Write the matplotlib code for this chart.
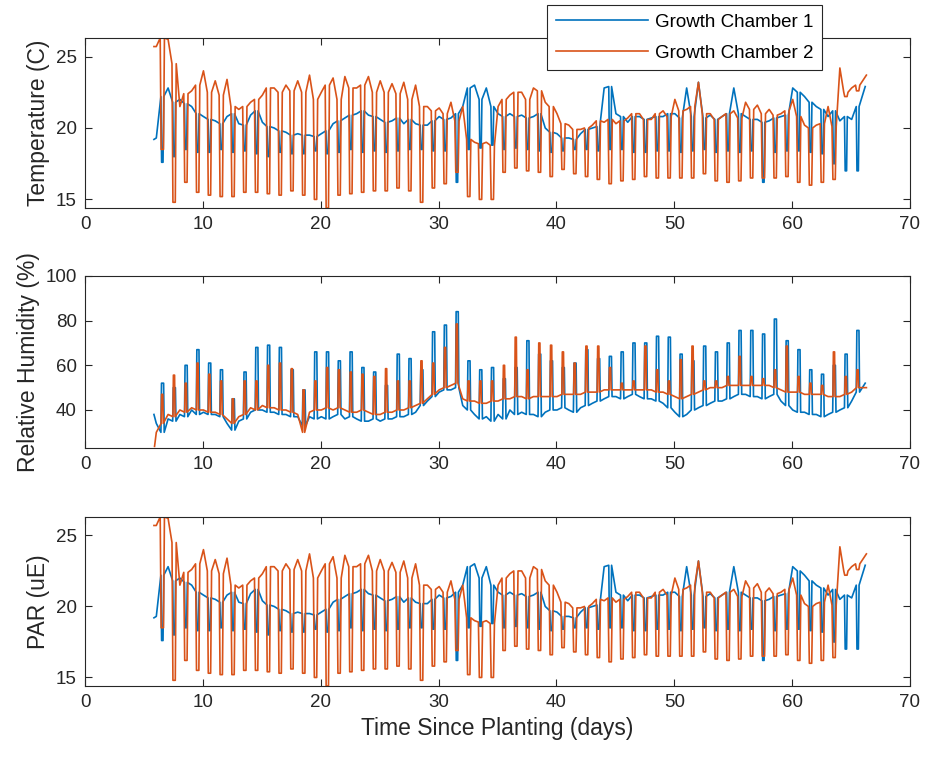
import numpy as np
import matplotlib.pyplot as plt

plt.rcParams['font.family'] = ['Liberation Sans', 'DejaVu Sans']

# one entry per day since planting (day 6 .. day 65)
days = list(range(6, 66))

# temperature (C): morning level, afternoon level, night dip
temp_c1_am = [19.3, 22.8, 22.0, 21.5, 20.8, 20.5, 20.8, 20.3, 20.9, 20.4,
              20.0, 19.7, 19.6, 19.5, 19.6, 20.3, 20.7, 21.0, 20.9, 20.6,
              20.5, 20.3, 20.3, 20.2, 20.8, 20.7, 21.5, 23.0, 22.8, 21.0,
              21.0, 20.9, 20.8, 20.0, 19.6, 19.3, 19.6, 20.0, 22.8, 21.0,
              20.4, 20.8, 20.7, 20.8, 21.0, 22.8, 23.2, 20.9, 20.8, 22.8,
              20.8, 20.6, 20.5, 20.8, 22.8, 22.2, 21.5, 20.8, 20.5, 20.6]
temp_c1_pm = [22.2, 21.8, 21.7, 21.0, 20.6, 20.3, 21.0, 20.2, 21.2, 20.1,
              19.8, 19.5, 19.5, 19.4, 19.8, 20.5, 20.9, 21.2, 20.8, 20.4,
              20.7, 20.6, 20.2, 20.5, 20.6, 21.0, 22.8, 22.0, 21.5, 20.8,
              20.8, 20.7, 21.0, 19.7, 19.3, 19.2, 19.9, 20.1, 22.9, 20.8,
              20.8, 20.6, 20.8, 21.0, 20.7, 20.8, 20.7, 20.6, 21.0, 21.0,
              20.6, 20.4, 20.7, 20.9, 22.5, 21.8, 21.3, 21.2, 20.8, 21.5]
temp_c1_night = [17.6, 18.0, 18.5, 18.3, 18.3, 18.5, 18.3, 18.4, 18.2, 18.0,
                 18.3, 18.2, 18.2, 18.4, 18.2, 18.3, 18.5, 18.3, 18.4, 18.3,
                 18.4, 18.5, 18.5, 18.4, 18.4, 16.2, 18.5, 18.6, 18.8, 18.5,
                 18.6, 18.5, 18.4, 18.3, 18.4, 18.5, 18.5, 18.4, 18.5, 18.5,
                 18.3, 18.3, 18.4, 18.4, 18.3, 18.4, 18.5, 18.3, 18.4, 18.3,
                 18.4, 16.2, 18.3, 18.4, 18.4, 18.3, 18.2, 17.5, 17.0, 17.0]

temp_c2_am = [25.7, 26.2, 21.5, 22.6, 24.0, 23.3, 23.4, 21.3, 21.8, 22.3,
              22.8, 23.0, 23.3, 23.7, 22.5, 23.5, 23.6, 22.8, 23.6, 23.3,
              23.1, 23.2, 23.0, 21.5, 21.4, 21.8, 21.5, 19.0, 19.0, 21.5,
              22.3, 22.5, 22.8, 21.8, 21.0, 20.2, 19.9, 20.2, 20.4, 20.3,
              20.7, 21.0, 20.6, 21.2, 22.0, 21.3, 23.2, 21.0, 20.8, 21.2,
              21.8, 21.6, 21.3, 21.0, 22.0, 20.2, 20.2, 21.5, 24.2, 22.8]
temp_c2_pm = [26.3, 24.5, 22.4, 23.0, 22.5, 22.3, 21.5, 21.5, 22.0, 22.8,
              22.5, 22.6, 22.5, 22.0, 23.0, 22.0, 22.8, 23.0, 22.5, 22.5,
              22.4, 22.0, 21.5, 21.2, 21.0, 20.5, 19.2, 18.9, 18.8, 22.0,
              22.5, 22.0, 22.6, 21.5, 20.3, 19.9, 20.0, 20.5, 20.6, 20.5,
              21.0, 20.6, 21.0, 20.8, 21.2, 21.5, 21.0, 20.6, 21.0, 20.7,
              21.3, 21.0, 20.9, 21.2, 20.8, 20.0, 20.3, 20.1, 22.5, 23.0]
temp_c2_night = [18.5, 14.8, 16.2, 15.5, 15.3, 15.2, 15.2, 15.5, 15.5, 15.4,
                 15.3, 15.6, 15.3, 15.0, 14.4, 15.3, 15.4, 15.5, 15.6, 15.6,
                 15.8, 15.6, 14.8, 15.8, 16.1, 16.9, 15.2, 15.0, 15.0, 16.9,
                 17.2, 17.0, 16.9, 16.6, 17.1, 16.8, 16.6, 16.4, 16.1, 16.3,
                 16.4, 16.6, 16.5, 16.5, 16.5, 16.5, 16.8, 16.3, 16.2, 16.3,
                 16.5, 16.5, 16.5, 16.6, 16.2, 16.0, 16.2, 16.4, 22.2, 22.6]

# relative humidity (%): morning base, afternoon base, daily peak
rh_c1_am = [34, 36, 38, 40, 39, 38, 34, 35, 39, 40,
            39, 38, 37, 37, 37, 37, 36, 36, 35, 35,
            36, 37, 39, 44, 48, 49, 42, 38, 37, 38,
            40, 39, 38, 39, 40, 40, 41, 43, 45, 46,
            46, 46, 45, 43, 39, 38, 41, 43, 44, 46,
            47, 46, 46, 44, 40, 39, 38, 38, 40, 44]
rh_c1_pm = [30, 35, 37, 38, 38, 37, 31, 36, 40, 39,
            38, 37, 33, 36, 36, 38, 37, 35, 36, 36,
            37, 38, 42, 46, 49, 50, 40, 36, 35, 36,
            38, 38, 37, 40, 41, 39, 42, 44, 46, 45,
            47, 45, 44, 41, 37, 40, 42, 44, 45, 47,
            46, 45, 47, 42, 39, 38, 37, 39, 41, 48]
rh_c1_peak = [52, 50, 60, 67, 61, 58, 45, 57, 68, 69,
              68, 58, 49, 66, 66, 62, 66, 59, 57, 51,
              65, 63, 58, 75, 78, 84, 62, 58, 59, 54,
              59, 71, 65, 62, 59, 61, 67, 63, 64, 66,
              70, 70, 73, 72.6, 65, 62, 68.6, 66, 70, 75.6,
              75.6, 74, 80.7, 71, 67, 58, 56, 60, 65, 75.6]

rh_c2_am = [30, 38, 40, 41, 40, 39, 36, 37, 41, 42,
            41, 40, 38, 39, 40, 40, 40, 39, 39, 38,
            39, 40, 42, 45, 49, 51, 45, 44, 43, 44,
            45, 46, 46, 46, 46, 47, 47, 48, 49, 49,
            49, 49, 49, 48, 46, 46, 48, 50, 50, 51,
            51, 51, 51, 49, 48, 47, 47, 46, 46, 48]
rh_c2_pm = [34, 37, 39, 40, 39, 38, 34, 38, 40, 41,
            40, 39, 30, 40, 41, 41, 39, 40, 38, 39,
            40, 41, 43, 47, 50, 52, 44, 43, 44, 45,
            46, 45, 46, 46, 47, 47, 48, 48, 49, 49,
            49, 49, 48, 47, 45, 47, 49, 50, 51, 51,
            51, 51, 50, 48, 48, 47, 47, 46, 47, 50]
rh_c2_peak = [47, 55.6, 52, 61, 56, 53, 45, 53, 53, 60,
              61, 58.5, 49, 53, 59, 58, 57, 56, 55, 58.5,
              53, 53, 62, 61, 68, 78.5, 53, 53, 53, 60,
              72.6, 58, 70, 69, 66, 61, 68.6, 68.6, 59, 52,
              53, 68.6, 58, 53, 62.5, 68.6, 53, 53, 55, 64,
              55, 54, 58, 68.6, 55, 52, 51, 66, 55, 58]

# first and last logged readings (day, value)
temp_c1_ends = [(5.85, 19.2), (66.2, 22.9)]
temp_c2_ends = [(5.85, 25.7), (66.3, 23.7)]
rh_c1_ends = [(5.85, 38), (66.2, 52)]
rh_c2_ends = [(5.9, 23.7), (66.3, 50)]


def daily_trace(am, pm, event, ends, phase):
    # phase: fraction of the day for (pre, event start, event end, post)
    t, v = [ends[0][0]], [ends[0][1]]
    for d, a, p, e in zip(days, am, pm, event):
        t += [d + 0.05] + [d + f for f in phase]
        v += [a, p, e, e, p]
    t.append(ends[1][0])
    v.append(ends[1][1])
    return np.array(t), np.array(v)


c1 = '#0072BD'
c2 = '#D95319'
ink = '#262626'

t1, temp1 = daily_trace(temp_c1_am, temp_c1_pm, temp_c1_night, temp_c1_ends,
                        (0.44, 0.50, 0.62, 0.68))
t2, temp2 = daily_trace(temp_c2_am, temp_c2_pm, temp_c2_night, temp_c2_ends,
                        (0.38, 0.46, 0.66, 0.74))
r1t, rh1 = daily_trace(rh_c1_am, rh_c1_pm, rh_c1_peak, rh_c1_ends,
                       (0.44, 0.49, 0.67, 0.72))
r2t, rh2 = daily_trace(rh_c2_am, rh_c2_pm, rh_c2_peak, rh_c2_ends,
                       (0.46, 0.50, 0.60, 0.64))

fig = plt.figure(figsize=(9.28, 7.58), dpi=100)
ax1 = fig.add_axes([0.0916, 0.7256, 0.889, 0.2243])
ax2 = fig.add_axes([0.0916, 0.409, 0.889, 0.227])
ax3 = fig.add_axes([0.0916, 0.095, 0.889, 0.223])

# PAR panel shows the same logged series as the temperature panel
panels = [
    (ax1, t1, temp1, t2, temp2, 'Temperature (C)', (14.4, 26.3), [15, 20, 25]),
    (ax2, r1t, rh1, r2t, rh2, 'Relative Humidity (%)', (23, 100), [40, 60, 80, 100]),
    (ax3, t1, temp1, t2, temp2, 'PAR (uE)', (14.4, 26.3), [15, 20, 25]),
]

for ax, xa, ya, xb, yb, label, ylim, yticks in panels:
    l1, = ax.plot(xa, ya, color=c1, lw=1.2, label='Growth Chamber 1')
    l2, = ax.plot(xb, yb, color=c2, lw=1.2, label='Growth Chamber 2')
    ax.set_xlim(0, 70)
    ax.set_ylim(*ylim)
    ax.set_xticks(range(0, 71, 10))
    ax.set_yticks(yticks)
    ax.set_ylabel(label, fontsize=16.5, color=ink)
    ax.tick_params(direction='in', length=5, width=0.8, colors=ink,
                   labelsize=13.5, top=True, right=True, pad=6)
    for s in ax.spines.values():
        s.set_color(ink)
        s.set_linewidth(0.8)

ax3.set_xlabel('Time Since Planting (days)', fontsize=16.5, color=ink)

leg = ax1.legend(handles=[l1, l2], loc='upper right',
                 bbox_to_anchor=(822 / 928, 1 - 5 / 758),
                 bbox_transform=fig.transFigure, borderaxespad=0,
                 fontsize=13.5, handlelength=4.9, handletextpad=0.4,
                 fancybox=False, framealpha=1, edgecolor=ink,
                 labelspacing=0.75, borderpad=0.45)
leg.get_frame().set_linewidth(0.8)

fig.savefig('out.png', dpi=100)
